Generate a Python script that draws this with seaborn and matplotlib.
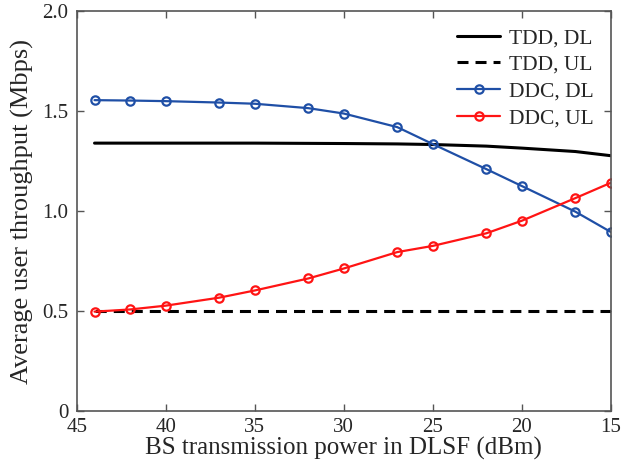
import matplotlib
matplotlib.use("Agg")
import matplotlib.pyplot as plt
import seaborn as sns
import pandas as pd

# Data
tdd_x = [44, 40, 35, 30, 27, 25, 22, 20, 17, 15]
tdd_dl = [1.340, 1.340, 1.340, 1.338, 1.336, 1.333, 1.325, 1.315, 1.298, 1.277]
tdd_ul = [0.50, 0.50, 0.50, 0.50, 0.50, 0.50, 0.50, 0.50, 0.50, 0.50]
ddc_x = [44, 42, 40, 37, 35, 32, 30, 27, 25, 22, 20, 17, 15]
ddc_dl = [1.555, 1.553, 1.550, 1.543, 1.537, 1.515, 1.488, 1.420, 1.335, 1.210, 1.125, 0.997, 0.895]
ddc_ul = [0.497, 0.508, 0.527, 0.567, 0.603, 0.663, 0.713, 0.795, 0.826, 0.889, 0.952, 1.065, 1.142]
labels = ["TDD, DL", "TDD, UL", "DDC, DL", "DDC, UL"]
xticks = [45, 40, 35, 30, 25, 20, 15]
yticks = [0, 0.5, 1.0, 1.5, 2.0]
ytick_labels = ["0", "0.5", "1.0", "1.5", "2.0"]

sns.set_style("ticks")
plt.rcParams['font.family'] = ['Liberation Serif', 'DejaVu Serif']
plt.rcParams['mathtext.fontset'] = 'stix'

fig = plt.figure(figsize=(6.41, 4.66), dpi=100)
ax = fig.add_axes([0.1197, 0.118, 0.8335, 0.858])

blue = "#1f4fa6"
red = "#ff1414"

sns.lineplot(x=tdd_x, y=tdd_dl, ax=ax, color="black", linewidth=2.2, label=labels[0])
sns.lineplot(x=tdd_x, y=tdd_ul, ax=ax, color="black", linewidth=2.2, linestyle=(0, (3.6, 2.3)), label=labels[1])
sns.lineplot(x=ddc_x, y=ddc_dl, ax=ax, color=blue, linewidth=1.6, marker="o",
             markersize=6, markerfacecolor="none", markeredgecolor=blue, markeredgewidth=1.6, label=labels[2])
sns.lineplot(x=ddc_x, y=ddc_ul, ax=ax, color=red, linewidth=1.6, marker="o",
             markersize=6, markerfacecolor="none", markeredgecolor=red, markeredgewidth=1.6, label=labels[3])

ax.set_xlim(45, 15)
ax.set_ylim(0, 2.0)
ax.set_xticks(xticks)
ax.set_xticklabels([str(t) for t in xticks])
ax.set_yticks(yticks)
ax.set_yticklabels(ytick_labels)

for s in ax.spines.values():
    s.set_visible(True)
    s.set_color("#555555")
    s.set_linewidth(1.2)

ax.tick_params(direction="in", top=True, right=True, length=5, width=1.0, color="#555555",
               labelsize=15)
ax.tick_params(axis="x", pad=5)
ax.tick_params(axis="y", pad=6)
ax.set_xlabel("BS transmission power in DLSF (dBm)", fontsize=18, labelpad=0)
ax.set_ylabel("Average user throughput (Mbps)", fontsize=19, labelpad=6)

leg = ax.legend(loc="upper right", frameon=False, fontsize=15.5, handlelength=2.0,
                handletextpad=0.4, labelspacing=0.3, borderaxespad=0.4)

fig.savefig("out.png", dpi=100)
